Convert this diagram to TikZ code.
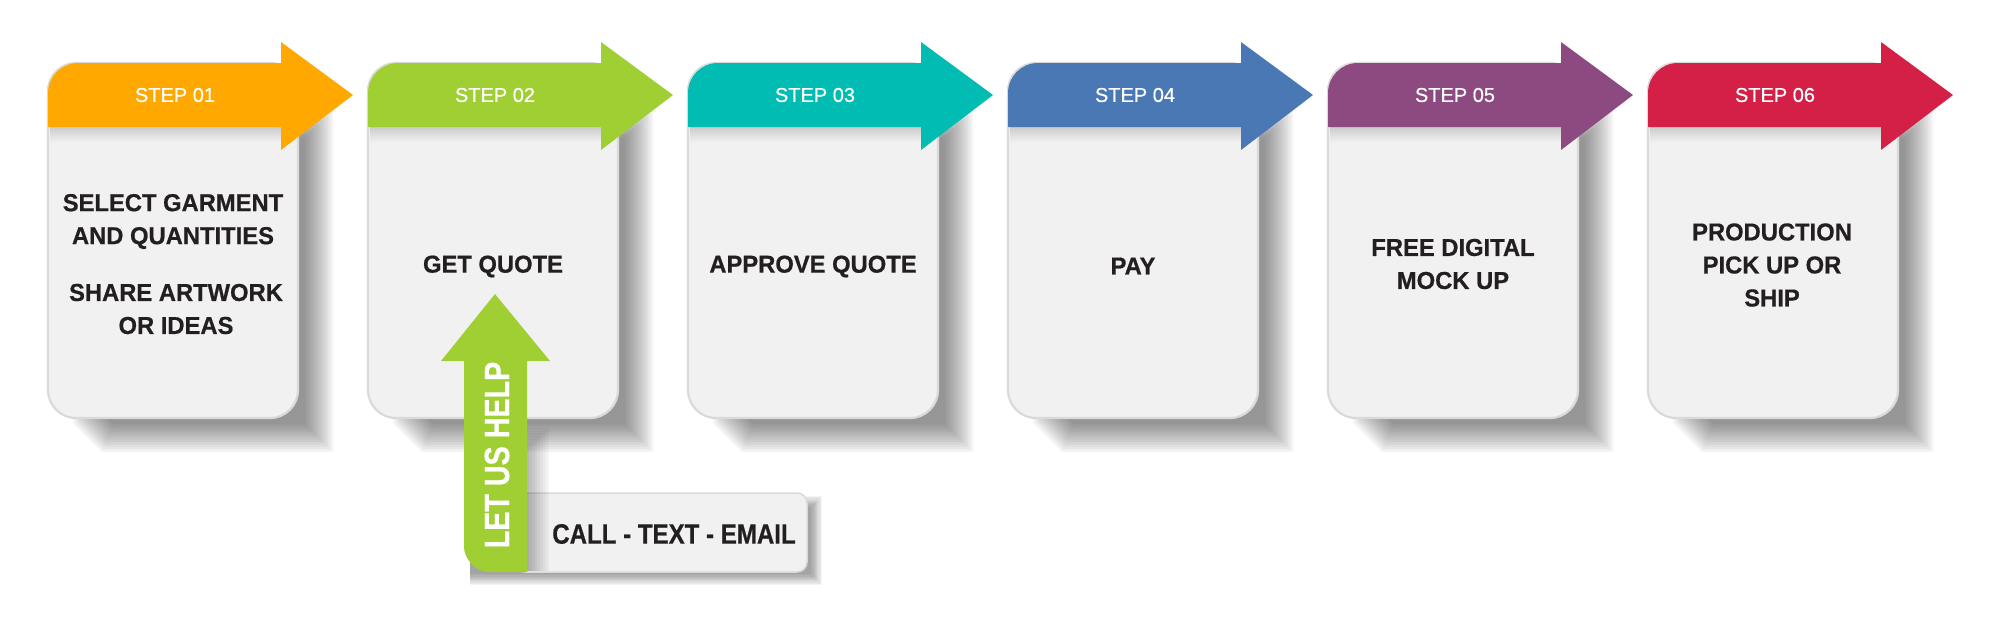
\documentclass[tikz,border=0pt]{standalone}
\usepackage{fontspec}
\setmainfont{Liberation Sans}
\newfontfamily\bodyfont[FakeStretch=0.97,FakeBold=0.6]{Liberation Sans}
\newfontfamily\condfont[FakeStretch=0.82,FakeBold=0.6]{Liberation Sans}
\newfontfamily\callfont[FakeStretch=0.86,FakeBold=0.6]{Liberation Sans}
\newfontfamily\headfont[FakeBold=0.5]{Liberation Sans}
\definecolor{cardgray}{HTML}{F1F1F1}
\definecolor{edgegray}{HTML}{DADADA}
\definecolor{txt}{HTML}{231F20}
\definecolor{c1}{HTML}{FFA800}
\definecolor{c2}{HTML}{A0CF34}
\definecolor{c3}{HTML}{00BCB2}
\definecolor{c4}{HTML}{4A78B4}
\definecolor{c5}{HTML}{8D4A80}
\definecolor{c6}{HTML}{D41F47}
\tikzset{
  card/.style={fill=cardgray, draw=edgegray, line width=2.2, rounded corners=28},
  softshadow/.style={fill=black, opacity=0.042},
  steplabel/.style={text=white, font=\headfont\fontsize{20}{24}\selectfont, inner sep=0},
  bodytext/.style={text=txt, font=\bodyfont\bfseries\fontsize{24.5}{33}\selectfont, align=center, inner sep=0},
  helptext/.style={text=white, font=\condfont\bfseries\fontsize{35}{35}\selectfont, inner sep=0, rotate=90},
  calltext/.style={text=txt, font=\callfont\bfseries\fontsize{28}{28}\selectfont, inner sep=0},
}
\begin{document}
\begin{tikzpicture}[x=1pt,y=-1pt]
\useasboundingbox (0,0) rectangle (2000,625);
\foreach \i/\col/\num in {0/c1/01,1/c2/02,2/c3/03,3/c4/04,4/c5/05,5/c6/06}{
  \pgfmathsetmacro\ox{48+320*\i}
  % soft long shadow (layered)
  \foreach \k in {0,2.5,...,27.5}{
    \fill[softshadow] (\ox+25+\k,110+\k) -- (\ox+25+\k,423-0.4*\k) -- (\ox+54+0.4*\k,452-\k)
      -- (\ox+285-\k,452-\k) -- (\ox+285-\k,110+\k) -- cycle;
  }
  % card body
  \filldraw[card] (\ox,63) rectangle (\ox+250,418);
  % shadow under header
  \shade[top color=black!20, bottom color=cardgray] (\ox+2,127) rectangle (\ox+248,142);
  % header arrow
  \fill[\col] (\ox,127) -- (\ox,93) .. controls (\ox,76.4) and (\ox+13.4,63) .. (\ox+30,63)
     -- (\ox+233,63) -- (\ox+233,42) -- (\ox+305,95) -- (\ox+233,150) -- (\ox+233,127) -- cycle;
  \node[steplabel] (h\i) at (\ox+127,95) {STEP \num};
}
% step texts
\node[bodytext] (t0a) at (173,221.5) {SELECT GARMENT\\AND QUANTITIES};
\node[bodytext] (t0b) at (176,309) {SHARE ARTWORK\\OR IDEAS};
\node[bodytext] (t1) at (493,266.5) {GET QUOTE};
\node[bodytext] (t2) at (813,266.5) {APPROVE QUOTE};
\node[bodytext] (t3) at (1133,266) {PAY};
\node[bodytext] (t4) at (1453,264) {FREE DIGITAL\\MOCK UP};
\node[bodytext] (t5) at (1772,265) {PRODUCTION\\PICK UP OR\\SHIP};
% call box shadow
\foreach \k in {0,1.2,...,10.8}{
  \fill[black, opacity=0.045] (470,496+\k) -- (822-\k,496+\k) -- (822-\k,585-\k) -- (470,585-\k) -- cycle;
}
\filldraw[fill=cardgray, draw=edgegray, line width=1.5, rounded corners=10] (515,493) rectangle (807,572);
% shadow of the arrow shaft
\foreach \k in {0,1.8,...,16.2}{
  \fill[black, opacity=0.04] (520,428+1.5*\k) rectangle (549-1.6*\k,571);
}
\node[calltext] (call) at (674,534) {CALL - TEXT - EMAIL};
% let us help arrow
\fill[c2] (464,361) -- (441,361) -- (495,294) -- (550,361) -- (527,361) -- (527,572) -- (489,572)
   .. controls (475.2,572) and (464,558.2) .. (464,547) -- cycle;
\node[helptext] (help) at (497,455) {LET US HELP};
\end{tikzpicture}
\end{document}
